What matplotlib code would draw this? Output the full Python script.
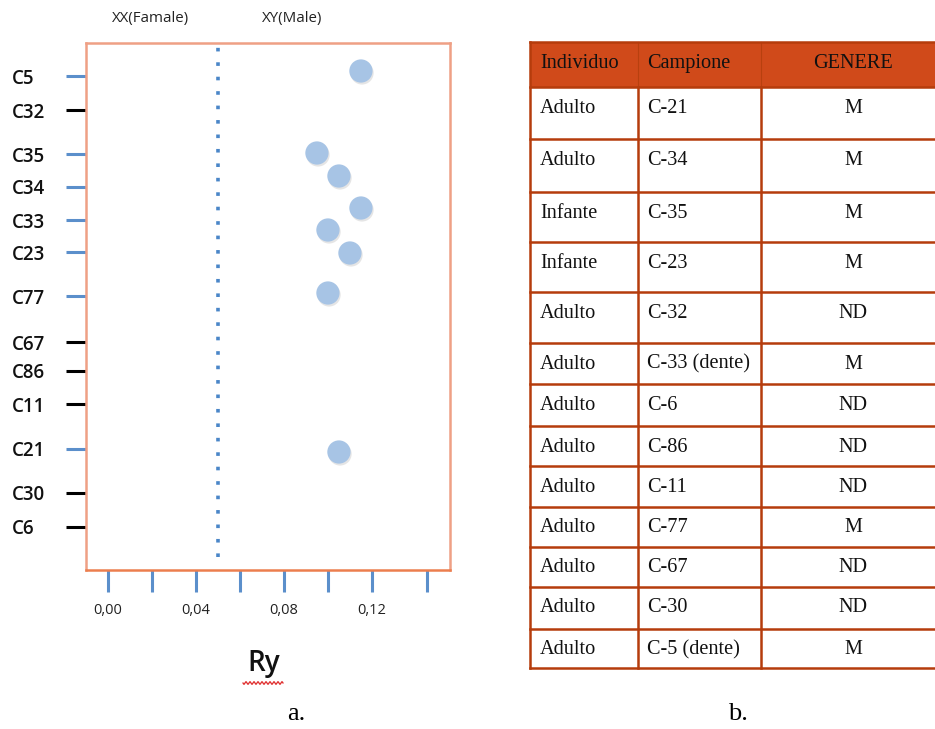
import numpy as np
import matplotlib
matplotlib.use("Agg")
import matplotlib.pyplot as plt
import matplotlib.patheffects as pe
from matplotlib.patches import Rectangle

# ---- panel a: Ry per sample ----
sample_labels = ["C5", "C32", "C35", "C34", "C33", "C23", "C77",
                 "C67", "C86", "C11", "C21", "C30", "C6"]
sample_pos = [49.4, 46.0, 41.6, 38.3, 35.0, 31.8, 27.4,
              22.8, 19.9, 16.6, 12.1, 7.7, 4.3]
sample_sex = ["M", "ND", "M", "M", "M", "M", "M",
              "ND", "ND", "ND", "M", "ND", "ND"]

ry_values = [0.115, 0.095, 0.105, 0.115, 0.100, 0.110, 0.100, 0.105]
ry_pos = [49.9, 41.7, 39.4, 36.2, 34.0, 31.7, 27.7, 11.8]

ry_threshold = 0.05
x_major = [0.00, 0.04, 0.08, 0.12]
x_major_labels = ["0,00", "0,04", "0,08", "0,12"]
x_minor = [0.02, 0.06, 0.10, 0.145]

# ---- panel b: table ----
col_headers = ["Individuo", "Campione", "GENERE"]
individuo = ["Adulto", "Adulto", "Infante", "Infante", "Adulto", "Adulto", "Adulto",
             "Adulto", "Adulto", "Adulto", "Adulto", "Adulto", "Adulto"]
campione = ["C-21", "C-34", "C-35", "C-23", "C-32", "C-33 (dente)", "C-6",
            "C-86", "C-11", "C-77", "C-67", "C-30", "C-5 (dente)"]
genere = ["M", "M", "M", "M", "ND", "M", "ND", "ND", "ND", "M", "ND", "ND", "M"]

# styling / layout
W, H = 935, 729
BLUE = "#5B8FCB"
DOT = "#A7C4E5"
FRAME = "#EFA085"
FRAME_BOTTOM = "#EC7E4E"
HEADER_FILL = "#D04A1A"
BORDER = "#B53C0C"
SANS = ["Open Sans", "DejaVu Sans"]
SERIF = ["Liberation Serif", "DejaVu Serif"]

fig = plt.figure(figsize=(W / 100, H / 100), dpi=100)
fig.patch.set_facecolor("white")

ax = fig.add_axes([86 / W, 1 - 570 / H, 364 / W, 527 / H])
ax.set_xlim(-0.01, 0.1555)
ax.set_ylim(0, 52.7)

for side, sp in ax.spines.items():
    sp.set_color(FRAME_BOTTOM if side == "bottom" else FRAME)
    sp.set_linewidth(1.8)

# threshold line between XX and XY
ax.axvline(ry_threshold, ymin=0.025, ymax=1.0, color="#4A86C8", lw=2.6,
           linestyle=(0, (1, 3.0)), dash_capstyle="butt", zorder=1)

# Ry points with a soft drop shadow
ax.scatter(ry_values, ry_pos, s=280, color=DOT, edgecolor="none", zorder=3,
           path_effects=[pe.SimplePatchShadow(offset=(0.8, -1.4), shadow_rgbFace="#8a8a8a",
                                              alpha=0.22),
                         pe.Normal()])

# y axis: sample ticks, blue for male, black for undetermined
ax.set_yticks(sample_pos, sample_labels)
ax.tick_params(axis="y", length=14.4, width=2.2, pad=39, labelsize=13.5,
               labelcolor="#111111")
for tick, sex in zip(ax.yaxis.get_major_ticks(), sample_sex):
    tick.tick1line.set_markeredgecolor(BLUE if sex == "M" else "black")
for lbl in ax.get_yticklabels():
    lbl.set_horizontalalignment("left")
    lbl.set_fontfamily(SANS)
    lbl.set_fontweight("semibold")

# x axis
ax.set_xticks(x_major, x_major_labels)
ax.set_xticks(x_minor, minor=True)
ax.tick_params(axis="x", which="both", length=15.5, width=2.2, color=BLUE,
               pad=8, labelsize=10.5, labelcolor="#222222")
for lbl in ax.get_xticklabels():
    lbl.set_fontfamily(SANS)

# overlay in pixel coordinates for titles and the table
ov = fig.add_axes([0, 0, 1, 1], zorder=5)
ov.set_xlim(0, W)
ov.set_ylim(H, 0)
ov.axis("off")
ov.patch.set_visible(False)

ov.text(151, 18, "XX(Famale)", ha="center", va="center", fontsize=10.8,
        family=SANS, color="#222222")
ov.text(292, 18, "XY(Male)", ha="center", va="center", fontsize=10.8,
        family=SANS, color="#222222")
ov.text(264, 664, "Ry", ha="center", va="center", fontsize=20,
        family=SANS, fontweight="semibold", color="#111111")
wx = np.linspace(243, 283, 80)
ov.plot(wx, 683 + 1.3 * np.sin((wx - 243) / 2.0 * np.pi), color="#E03030", lw=0.9)

ov.text(296, 714, "a.", ha="center", va="center", fontsize=19, family=SERIF)
ov.text(738, 714, "b.", ha="center", va="center", fontsize=19, family=SERIF)

# table geometry
row_edges = [42, 87, 139, 192, 242, 292, 343, 384, 426, 466, 507, 547, 587, 629, 668]
col_edges = [530, 638, 761, 945]
text_x = [540, 647, 853]
text_ha = ["left", "left", "center"]

ov.add_patch(Rectangle((col_edges[0], row_edges[0]), col_edges[-1] - col_edges[0],
                       row_edges[1] - row_edges[0], facecolor=HEADER_FILL,
                       edgecolor="none", zorder=1))
for xe in col_edges[1:3]:
    ov.plot([xe, xe], [row_edges[0], row_edges[1]], color="#B8400F", lw=0.8, zorder=2)
for ye in row_edges:
    ov.plot([col_edges[0], col_edges[-1]], [ye, ye], color=BORDER, lw=1.8, zorder=2)
ov.plot([col_edges[0], col_edges[0]], [row_edges[0], row_edges[-1]], color=BORDER,
        lw=1.8, zorder=2)
for xe in col_edges[1:3]:
    ov.plot([xe, xe], [row_edges[1], row_edges[-1]], color=BORDER, lw=1.8, zorder=2)

rows = [col_headers] + [list(r) for r in zip(individuo, campione, genere)]
for top, row in zip(row_edges[:-1], rows):
    for j, val in enumerate(row):
        ov.text(text_x[j], top + 21, val, ha=text_ha[j], va="center",
                fontsize=14.6, family=SERIF, color="#111111", zorder=3)

fig.savefig("out.png", dpi=100, facecolor="white")
